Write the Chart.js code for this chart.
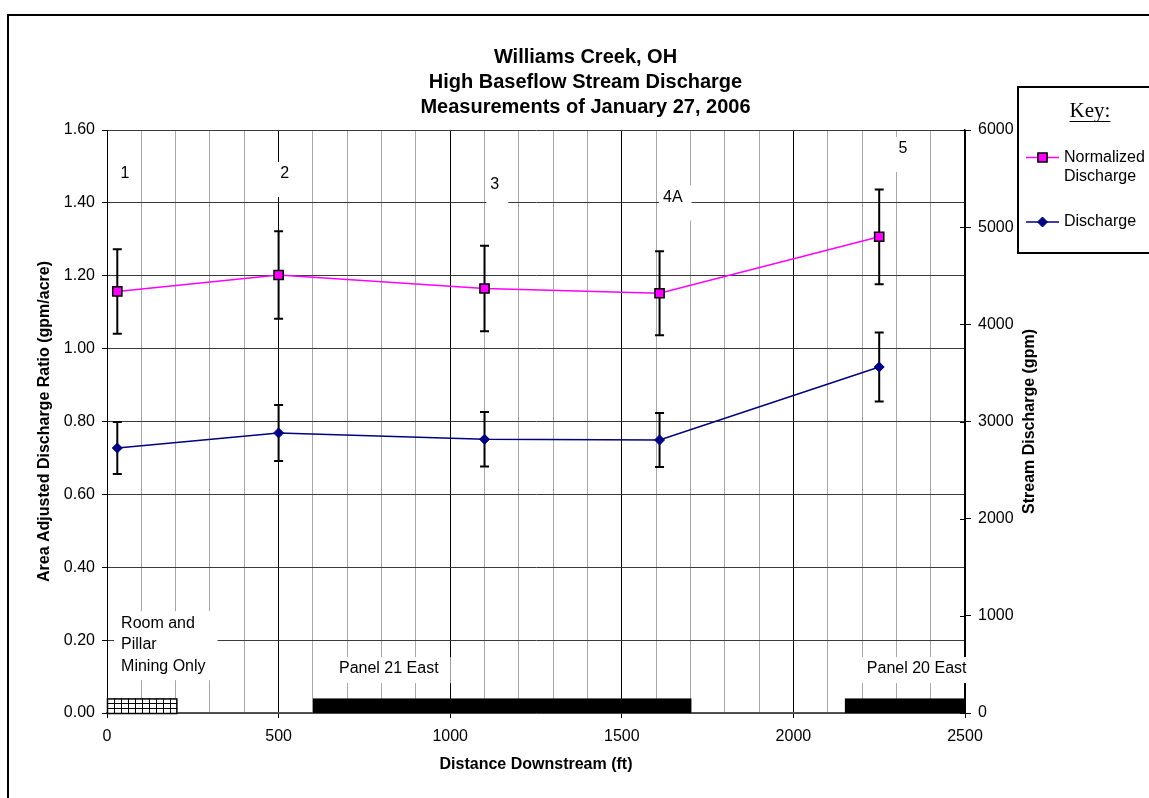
<!DOCTYPE html>
<html>
<head>
<meta charset="utf-8">
<script src="https://cdn.jsdelivr.net/npm/chart.js@4.4.0/dist/chart.umd.min.js"></script>
<style>
html,body{margin:0;padding:0;background:#fff;}
#wrap{width:1149px;height:798px;position:relative;}
</style>
</head>
<body>
<div id="wrap"><canvas id="c" width="1149" height="798"></canvas></div>
<script>
// ---------- DATA ----------
const chartTitle = ['Williams Creek, OH', 'High Baseflow Stream Discharge', 'Measurements of January 27, 2006'];
const distances = [30, 500, 1100, 1610, 2250];                 // ft downstream
const siteLabels = ['1', '2', '3', '4A', '5'];
const normalizedDischarge = [1.157, 1.202, 1.165, 1.152, 1.307]; // gpm/acre
const normalizedError = [0.116, 0.120, 0.117, 0.115, 0.130];
const discharge = [2727, 2882, 2817, 2810, 3561];               // gpm
const dischargeError = [268, 288, 280, 278, 355];
const zoneNames = [['Room and', 'Pillar', 'Mining Only'], ['Panel 21 East'], ['Panel 20 East']];
const zoneStart = [0, 600, 2150];
const zoneEnd = [205, 1700, 2500];
const zoneHatched = [true, false, false];

// ---------- annotation placement (data coordinates) ----------
const siteLabelAnchors = [
  {x: 39, y: 1.479}, {x: 505, y: 1.479}, {x: 1117, y: 1.449}, {x: 1620, y: 1.4145}, {x: 2306, y: 1.548}
];
const zoneLabelAnchors = [{x: 41, y: 0.2466}, {x: 676, y: 0.1205}, {x: 2214, y: 0.1205}];
const zoneBarHeight = 0.04;

const FONT = "'Liberation Sans', Arial, Helvetica, sans-serif";
Chart.defaults.font.family = FONT;
Chart.defaults.color = '#000';

const PINK = '#FF00FF', NAVY = '#000080';

const deco = {
  id: 'deco',
  beforeDraw(chart) {
    const ctx = chart.ctx;
    ctx.save();
    ctx.fillStyle = '#fff';
    ctx.fillRect(0, 0, chart.width, chart.height);
    ctx.restore();
  },
  beforeDatasetsDraw(chart) {
    const {ctx, scales: {x, y, y2}} = chart;
    ctx.save();
    // right axis: inward part of the crossing ticks
    ctx.strokeStyle = '#000'; ctx.lineWidth = 1;
    y2.ticks.forEach(t => {
      const py = Math.round(y2.getPixelForValue(t.value)) + 0.5;
      ctx.beginPath(); ctx.moveTo(x.right - 5, py); ctx.lineTo(x.right, py); ctx.stroke();
    });

    // label boxes (white, masking grid) + text
    ctx.font = '16px ' + FONT;
    ctx.textBaseline = 'middle';
    ctx.textAlign = 'left';
    const drawLabel = (lines, ax, ay, lh, padL, padR, padT, padB) => {
      const px = x.getPixelForValue(ax), py = y.getPixelForValue(ay);
      let w = 0; lines.forEach(l => { w = Math.max(w, ctx.measureText(l).width); });
      ctx.fillStyle = '#fff';
      ctx.fillRect(px - padL, py - padT, w + padL + padR, (lines.length - 1) * lh + padT + padB);
      ctx.fillStyle = '#000';
      lines.forEach((l, i) => ctx.fillText(l, px, py + i * lh));
    };
    siteLabels.forEach((s, i) => drawLabel([s], siteLabelAnchors[i].x, siteLabelAnchors[i].y, 0, 4, 9, 12, 23));
    zoneNames.forEach((n, i) => drawLabel(n, zoneLabelAnchors[i].x, zoneLabelAnchors[i].y, 21.5, 7, 12, 12, 14));

    // mining zone bars
    zoneStart.forEach((s, i) => {
      const x0 = x.getPixelForValue(s), x1 = x.getPixelForValue(zoneEnd[i]);
      const y0 = y.getPixelForValue(zoneBarHeight), y1 = y.getPixelForValue(0);
      if (zoneHatched[i]) {
        ctx.fillStyle = '#fff';
        ctx.fillRect(x0, y0, x1 - x0, y1 - y0);
        ctx.strokeStyle = '#000'; ctx.lineWidth = 1;
        ctx.beginPath();
        for (let xx = x0 + 7; xx < x1 - 2; xx += 7) {
          ctx.moveTo(Math.round(xx) + 0.5, y0); ctx.lineTo(Math.round(xx) + 0.5, y1);
        }
        const hgt = y1 - y0;
        [1 / 3, 2 / 3].forEach(f => {
          const yy = Math.round(y0 + hgt * f) + 0.5;
          ctx.moveTo(x0, yy); ctx.lineTo(x1, yy);
        });
        ctx.stroke();
        ctx.lineWidth = 1.5;
        ctx.strokeRect(x0 + 0.5, y0 + 0.5, x1 - x0 - 1, y1 - y0);
      } else {
        ctx.fillStyle = '#000';
        ctx.fillRect(x0, y0, x1 - x0 + 1, y1 - y0);
      }
    });

    // error bars
    ctx.strokeStyle = '#000'; ctx.lineWidth = 2;
    const errs = [[normalizedDischarge, normalizedError, y], [discharge, dischargeError, y2]];
    errs.forEach(([vals, es, sc]) => {
      vals.forEach((v, i) => {
        const px = x.getPixelForValue(distances[i]);
        const pt = sc.getPixelForValue(v + es[i]), pb = sc.getPixelForValue(v - es[i]);
        ctx.beginPath();
        ctx.moveTo(px, pt); ctx.lineTo(px, pb);
        ctx.moveTo(px - 4.5, pt); ctx.lineTo(px + 4.5, pt);
        ctx.moveTo(px - 4.5, pb); ctx.lineTo(px + 4.5, pb);
        ctx.stroke();
      });
    });
    ctx.restore();
  },
  afterDraw(chart) {
    const {ctx, scales: {x, y2}} = chart;
    ctx.save();
    // title
    ctx.fillStyle = '#000';
    ctx.textAlign = 'center'; ctx.textBaseline = 'middle';
    ctx.font = 'bold 20px ' + FONT;
    chartTitle.forEach((t, i) => ctx.fillText(t, 585.5, 57 + i * 25));

    // right axis title
    ctx.save();
    ctx.translate(1030, (y2.top + y2.bottom) / 2);
    ctx.rotate(-Math.PI / 2);
    ctx.font = 'bold 16px ' + FONT;
    ctx.fillText('Stream Discharge (gpm)', 0, 0);
    ctx.restore();

    // legend ("Key")
    ctx.lineWidth = 2; ctx.strokeStyle = '#000';
    ctx.strokeRect(1018, 87, 160, 166);
    ctx.font = "21px 'Liberation Serif', 'Times New Roman', serif";
    ctx.textAlign = 'center'; ctx.textBaseline = 'alphabetic';
    ctx.fillText('Key:', 1090, 117);
    const kw = ctx.measureText('Key:').width;
    ctx.lineWidth = 1;
    ctx.beginPath(); ctx.moveTo(1090 - kw / 2, 121.5); ctx.lineTo(1090 + kw / 2, 121.5); ctx.stroke();

    const ds = chart.data.datasets;
    const entries = [
      {d: ds[0], y: 157.5, lines: ['Normalized', 'Discharge']},
      {d: ds[1], y: 222, lines: [ds[1].label]}
    ];
    ctx.textAlign = 'left'; ctx.textBaseline = 'middle';
    ctx.font = '16px ' + FONT;
    entries.forEach(e => {
      ctx.strokeStyle = e.d.borderColor; ctx.lineWidth = 1.5;
      ctx.beginPath(); ctx.moveTo(1026, e.y); ctx.lineTo(1059, e.y); ctx.stroke();
      ctx.fillStyle = e.d.pointBackgroundColor; ctx.strokeStyle = e.d.pointBorderColor;
      ctx.lineWidth = e.d.pointBorderWidth;
      ctx.beginPath();
      if (e.d.pointStyle === 'rect') {
        const s = Math.SQRT1_2 * e.d.pointRadius;
        ctx.rect(1042.5 - s, e.y - s, 2 * s, 2 * s);
      } else {
        const r = e.d.pointRadius;
        ctx.moveTo(1042.5, e.y - r); ctx.lineTo(1042.5 + r, e.y); ctx.lineTo(1042.5, e.y + r); ctx.lineTo(1042.5 - r, e.y); ctx.closePath();
      }
      ctx.fill(); ctx.stroke();
      ctx.fillStyle = '#000';
      e.lines.forEach((l, i) => ctx.fillText(l, 1064, e.y + i * 19.5));
    });

    // outer chart frame
    ctx.lineWidth = 2; ctx.strokeStyle = '#000';
    ctx.strokeRect(8, 15, 1200, 830);
    ctx.restore();
  }
};

const majorX = v => Math.abs(v % 500) < 1e-6;

new Chart(document.getElementById('c'), {
  type: 'line',
  data: {
    datasets: [
      {
        label: 'Normalized Discharge',
        yAxisID: 'y',
        data: distances.map((d, i) => ({x: d, y: normalizedDischarge[i]})),
        borderColor: PINK, borderWidth: 1.5,
        pointStyle: 'rect', pointRadius: 6.5, pointHoverRadius: 6.5,
        pointBackgroundColor: PINK, pointBorderColor: '#000', pointBorderWidth: 1.5,
        tension: 0, fill: false
      },
      {
        label: 'Discharge',
        yAxisID: 'y2',
        data: distances.map((d, i) => ({x: d, y: discharge[i]})),
        borderColor: NAVY, borderWidth: 1.5,
        pointStyle: 'rectRot', pointRadius: 5, pointHoverRadius: 5,
        pointBackgroundColor: NAVY, pointBorderColor: NAVY, pointBorderWidth: 1,
        tension: 0, fill: false
      }
    ]
  },
  options: {
    responsive: false,
    animation: false,
    devicePixelRatio: 1,
    layout: {padding: {top: 130, left: 0, right: 0, bottom: 0}},
    plugins: {legend: {display: false}, title: {display: false}, tooltip: {enabled: false}},
    scales: {
      x: {
        type: 'linear', position: 'bottom', min: 0, max: 2500,
        afterFit(s) { s.height = 85; },
        ticks: {
          stepSize: 100, autoSkip: false, maxRotation: 0, minRotation: 0, padding: 9,
          font: {size: 16}, color: '#000',
          callback: v => majorX(v) ? String(v) : ''
        },
        grid: {
          color: c => (c.tick && majorX(c.tick.value)) ? '#000' : '#a8a8a8',
          lineWidth: 1, tickLength: 5,
          tickColor: c => (c.tick && majorX(c.tick.value)) ? '#000' : 'rgba(0,0,0,0)'
        },
        border: {color: '#555', width: 1.5},
        title: {display: true, text: 'Distance Downstream (ft)', font: {size: 16, weight: 'bold'}, color: '#000', padding: {top: 0, bottom: 24}}
      },
      y: {
        position: 'left', min: 0, max: 1.6,
        afterFit(s) { s.width = 107; },
        ticks: {stepSize: 0.2, padding: 7, font: {size: 16}, color: '#000', callback: v => Number(v).toFixed(2)},
        grid: {color: '#3a3a3a', lineWidth: 1, tickLength: 5, tickColor: '#000'},
        border: {color: '#000', width: 1},
        title: {display: true, text: 'Area Adjusted Discharge Ratio (gpm/acre)', font: {size: 16, weight: 'bold'}, color: '#000', padding: {top: 35, bottom: 0}}
      },
      y2: {
        position: 'right', min: 0, max: 6000,
        afterFit(s) { s.width = 184; },
        ticks: {stepSize: 1000, padding: 7, font: {size: 16}, color: '#000', callback: v => String(Math.round(v))},
        grid: {drawOnChartArea: false, tickLength: 6, tickColor: '#000'},
        border: {color: '#000', width: 1.5}
      }
    }
  },
  plugins: [deco]
});
</script>
</body>
</html>
